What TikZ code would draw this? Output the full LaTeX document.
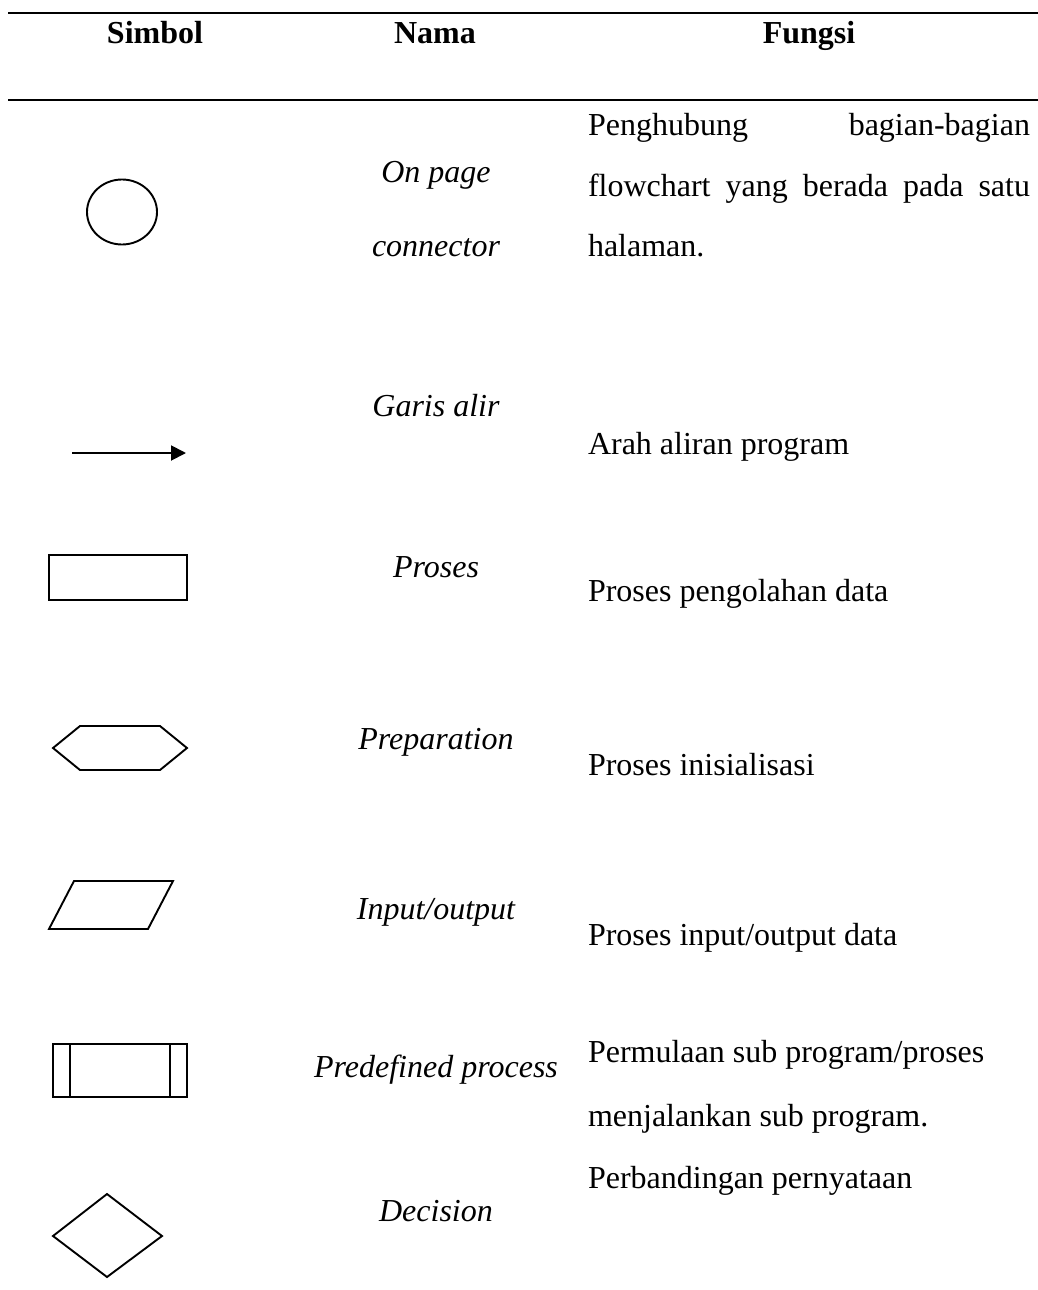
\documentclass[tikz,border=0pt]{standalone}
\usepackage{fontspec}
\setmainfont{Liberation Serif}
\usetikzlibrary{arrows.meta}
\begin{document}
\begin{tikzpicture}[x=1pt,y=-1pt,
  txt/.style={inner sep=0pt,outer sep=0pt,font=\fontsize{32pt}{38pt}\selectfont},
  head/.style={txt,anchor=base,font=\fontsize{32pt}{38pt}\selectfont\bfseries},
  nama/.style={txt,anchor=base,font=\fontsize{32pt}{38pt}\selectfont\itshape},
  fungsi/.style={txt,anchor=base west},
  sym/.style={line width=1.9pt,line join=miter},
  rule/.style={line width=1.6pt}]
\useasboundingbox (0,0) rectangle (1038,1290);
% rules
\coordinate (r1a) at (8,13); \coordinate (r1b) at (1038,13);
\coordinate (r2a) at (8,100); \coordinate (r2b) at (1038,100);
\draw[rule] (r1a) -- (r1b);
\draw[rule,line width=2.2pt] (r2a) -- (r2b);
% header
\node[head] (h1) at (155,44) {Simbol};
\node[head] (h2) at (435,44) {Nama};
\node[head] (h3) at (809,44) {Fungsi};
% row 1
\draw[sym] (122,212) ellipse [x radius=35, y radius=32.5];
\node[nama] (n1a) at (436,182) {On page};
\node[nama] (n1b) at (436,256) {connector};
\node[fungsi] (f1a) at (588,135) {\hbox to 442pt{Penghubung\hfill bagian-bagian}};
\node[fungsi] (f1b) at (588,196) {\hbox to 442pt{flowchart\hfill yang\hfill berada\hfill pada\hfill satu}};
\node[fungsi] (f1c) at (588,256) {halaman.};
% row 2
\coordinate (a1) at (72,453); \coordinate (a2) at (186,453);
\draw[sym,-{Triangle[length=15pt,width=15pt]}] (a1) -- (a2);
\node[nama] (n2) at (436,416) {Garis alir};
\node[fungsi] (f2) at (588,454) {Arah aliran program};
% row 3
\draw[sym] (49,555) rectangle (187,600);
\node[nama] (n3) at (436,577) {Proses};
\node[fungsi] (f3) at (588,601) {Proses pengolahan data};
% row 4
\draw[sym] (53,748) -- (80,726) -- (160,726) -- (187,748) -- (160,770) -- (80,770) -- cycle;
\node[nama] (n4) at (436,749) {Preparation};
\node[fungsi] (f4) at (588,775) {Proses inisialisasi};
% row 5
\draw[sym] (74,881) -- (173,881) -- (148,929) -- (49,929) -- cycle;
\node[nama] (n5) at (436,919) {Input/output};
\node[fungsi] (f5) at (588,945) {Proses input/output data};
% row 6
\draw[sym] (53,1044) rectangle (187,1097);
\draw[sym] (70,1044) -- (70,1097);
\draw[sym] (170,1044) -- (170,1097);
\node[nama] (n6) at (436,1077) {Predefined process};
\node[fungsi] (f6a) at (588,1062) {Permulaan sub program/proses};
\node[fungsi] (f6b) at (588,1126) {menjalankan sub program.};
% row 7
\draw[sym] (53,1236) -- (107,1194) -- (162,1236) -- (107,1277) -- cycle;
\node[nama] (n7) at (436,1221) {Decision};
\node[fungsi] (f7) at (588,1188) {Perbandingan pernyataan};
\end{tikzpicture}
\end{document}
